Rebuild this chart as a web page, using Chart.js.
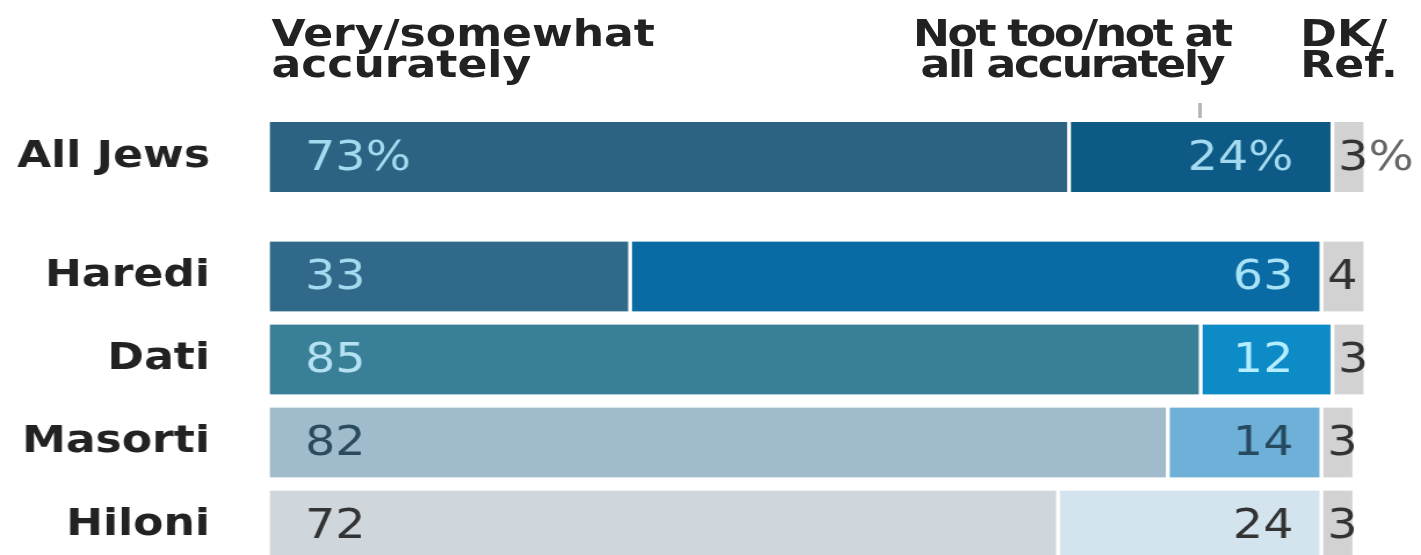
<!DOCTYPE html>
<html lang="en">
<head>
<meta charset="UTF-8">
<title>Accuracy of media coverage</title>
<script src="https://cdn.jsdelivr.net/npm/chart.js"></script>
<style>
  html, body { margin: 0; padding: 0; background: #fff; overflow: hidden; width: 1421px; height: 555px; }
  /* source graphic is horizontally stretched, so draw narrow and stretch */
  #wrap { position: absolute; left: 0; top: 0; width: 1225px; height: 555px; transform: scaleX(1.16); transform-origin: 0 0; }
  .head { position: absolute; font: bold 38px "DejaVu Sans"; line-height: 31px; color: #222; white-space: nowrap; }
  canvas { position: absolute; left: 0; }
</style>
</head>
<body>
<div id="wrap">
  <div class="head" style="left:234px; top:18px;">Very/somewhat<br>accurately</div>
  <div class="head" style="left:924px; top:18px; transform:translateX(-50%); text-align:center; letter-spacing:-2px;">Not too/not at<br>all accurately</div>
  <div class="head" style="left:1121px; top:18px;">DK/<br>Ref.</div>
  <div style="position:absolute; left:1033px; top:103px; width:3px; height:15px; background:#b4b4b4;"></div>
  <canvas id="topChart" width="1225" height="100" style="top:107px"></canvas>
  <canvas id="groupChart" width="1225" height="332" style="top:235px"></canvas>
</div>

<script>
// data
const categories = ['All Jews', 'Haredi', 'Dati', 'Masorti', 'Hiloni'];
const veryAccurate = [73, 33, 85, 82, 72];
const notAccurate = [24, 63, 12, 14, 24];
const dkRef = [3, 4, 3, 3, 3];

// colours per row
const colVery = ['#2c6282', '#31698a', '#3a7f98', '#a0bccc', '#cfd6dc'];
const colNot = ['#0d5a86', '#0a6aa4', '#0c8bc6', '#6eb0d8', '#d4e4ee'];
const colDk = '#d2d2d2';
const txtVery = ['#a3daf0', '#a3daf0', '#b4e2f2', '#2a4a5e', '#333333'];
const txtNot = ['#a3daf0', '#a8e2f6', '#b4eeff', '#264a60', '#333333'];

const labelPlugin = {
  id: 'segLabels',
  afterDatasetsDraw(chart) {
    const ctx = chart.ctx;
    const xs = chart.scales.x;
    const off = chart.options.rowOffset;
    const suffix = chart.options.suffix;
    ctx.save();
    ctx.font = '41px "DejaVu Sans"';
    ctx.textBaseline = 'middle';
    chart.data.datasets.forEach((ds, di) => {
      chart.getDatasetMeta(di).data.forEach((bar, i) => {
        const row = i + off;
        const txt = ds.data[i] + suffix;
        const y = bar.y + 2;
        if (di === 0) {
          ctx.fillStyle = txtVery[row];
          ctx.textAlign = 'left';
          ctx.fillText(txt, bar.base + 32, y);
        } else if (di === 1) {
          ctx.fillStyle = txtNot[row];
          ctx.textAlign = 'right';
          ctx.fillText(txt, xs.getPixelForValue(100) - 62, y);
        } else {
          ctx.textAlign = 'left';
          ctx.fillStyle = '#333';
          ctx.fillText(String(ds.data[i]), bar.base + 5, y);
          if (suffix) {
            const w = ctx.measureText(String(ds.data[i])).width;
            ctx.fillStyle = '#666';
            ctx.fillText(suffix, bar.base + 5 + w, y);
          }
        }
      });
    });
    ctx.restore();
  }
};

function makeChart(id, from, to, suffix) {
  const seg = { borderColor: '#fff', borderWidth: { left: 2, right: 2, top: 0, bottom: 0 }, borderSkipped: false, barThickness: 70 };
  new Chart(document.getElementById(id), {
    type: 'bar',
    data: {
      labels: categories.slice(from, to),
      datasets: [
        Object.assign({ data: veryAccurate.slice(from, to), backgroundColor: colVery.slice(from, to) }, seg),
        Object.assign({ data: notAccurate.slice(from, to), backgroundColor: colNot.slice(from, to) }, seg),
        Object.assign({ data: dkRef.slice(from, to), backgroundColor: colDk }, seg)
      ]
    },
    options: {
      indexAxis: 'y',
      responsive: false,
      animation: false,
      rowOffset: from,
      suffix: suffix,
      layout: { padding: { left: 0, right: 48, top: 0, bottom: 0 } },
      plugins: { legend: { display: false }, tooltip: { enabled: false } },
      scales: {
        x: { stacked: true, min: 0, max: 100, display: false },
        y: {
          stacked: true,
          grid: { display: false, drawTicks: false },
          border: { display: false },
          ticks: { padding: 50, color: '#222', font: { family: 'DejaVu Sans', weight: 'bold', size: 38 } },
          afterFit(scale) {
            scale.width = 231;
            scale.paddingTop = 0;
            scale.paddingBottom = 0;
          }
        }
      }
    },
    plugins: [labelPlugin]
  });
}

makeChart('topChart', 0, 1, '%');
makeChart('groupChart', 1, 5, '');
</script>
</body>
</html>
